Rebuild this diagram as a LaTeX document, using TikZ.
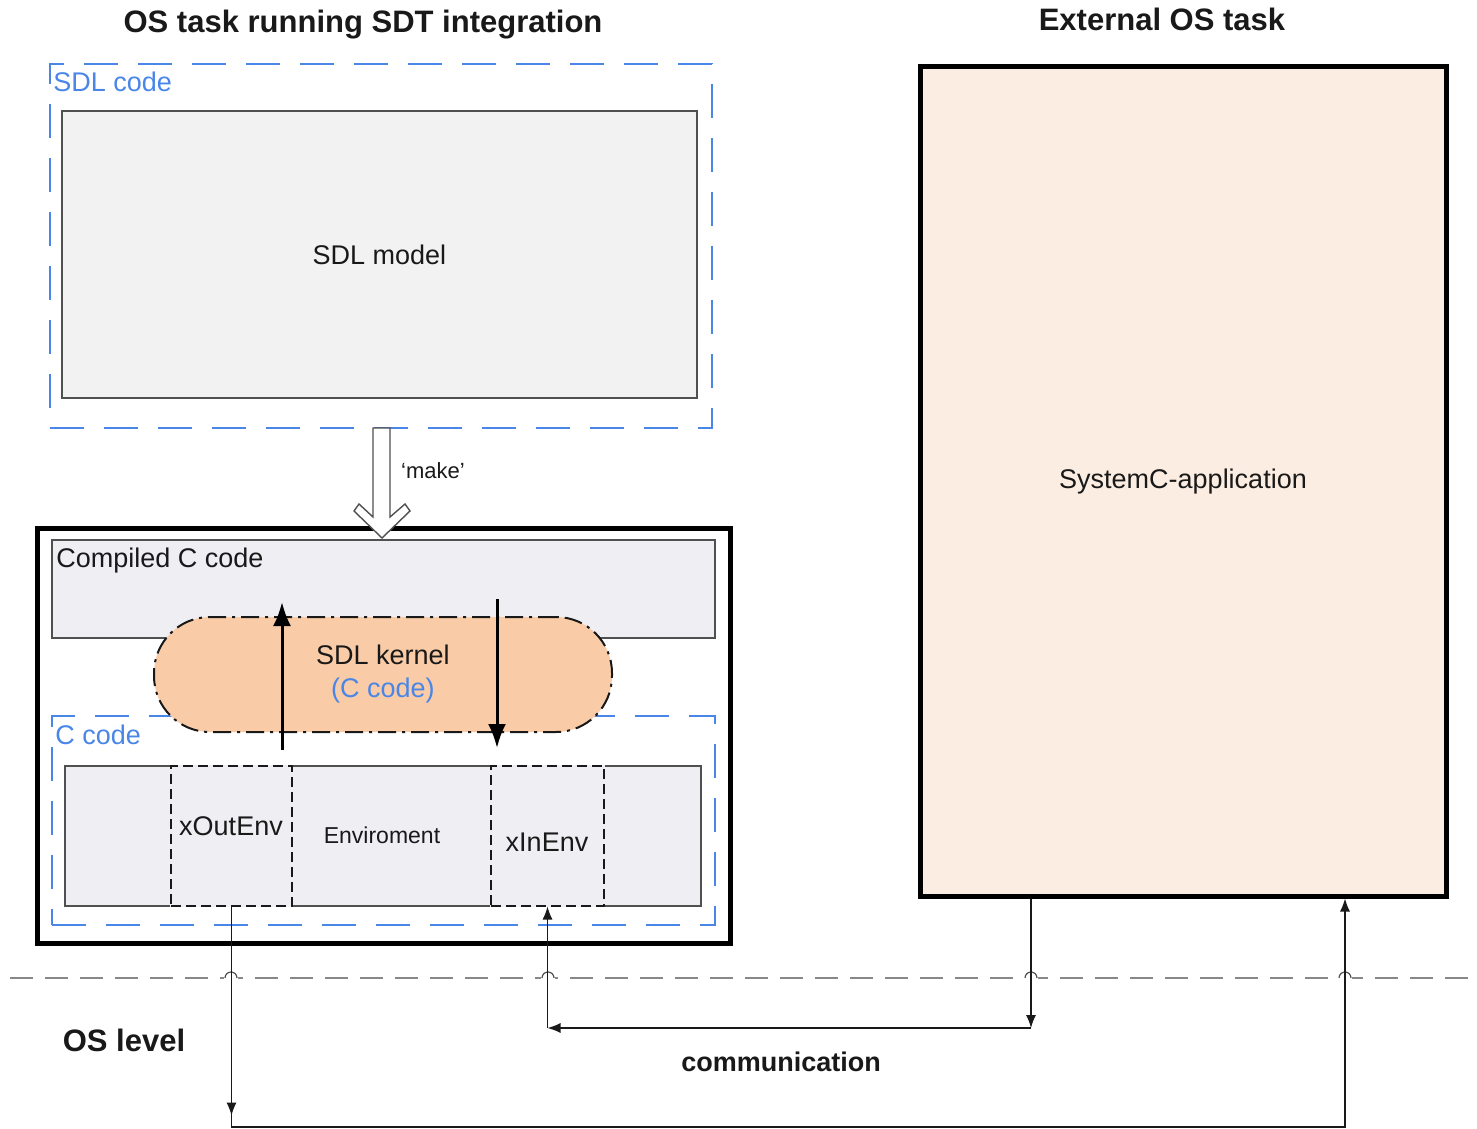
\documentclass[tikz,border=0pt]{standalone}
\usepackage{fontspec}
\setmainfont{Liberation Sans}
\usetikzlibrary{fit,arrows.meta,decorations.markings}

\definecolor{cblue}{RGB}{74,134,232}
\definecolor{kfill}{RGB}{249,203,166}
\definecolor{extfill}{RGB}{252,237,226}
\definecolor{modelfill}{RGB}{242,242,242}
\definecolor{envfill}{RGB}{239,238,243}
\definecolor{osgray}{RGB}{136,136,136}
\definecolor{edgegray}{RGB}{80,80,80}
\definecolor{inkblack}{RGB}{25,25,25}

\begin{document}
\begin{tikzpicture}[x=0.5pt,y=-0.5pt,
  every node/.style={inner sep=0pt},
  txt/.style={text=inkblack, font=\fontsize{13.5pt}{16.5pt}\selectfont},
  smalltxt/.style={text=inkblack, font=\fontsize{11.5pt}{14pt}\selectfont},
  bluetxt/.style={text=cblue, font=\fontsize{13.5pt}{16.5pt}\selectfont},
  headtxt/.style={text=inkblack, font=\fontsize{15.5pt}{18pt}\selectfont\bfseries},
  commtxt/.style={text=inkblack, font=\fontsize{13.5pt}{16.5pt}\selectfont\bfseries},
  bluebox/.style={draw=cblue, line width=1pt, dash pattern=on 17pt off 10pt},
  modelbox/.style={draw=edgegray, fill=modelfill, line width=0.75pt, txt},
  graybox/.style={draw=edgegray, fill=envfill, line width=0.75pt},
  subenv/.style={fill=envfill, draw=inkblack, line width=0.55pt, dash pattern=on 5pt off 2.5pt,
    preaction={draw=envfill, line width=1.2pt, solid}},
  taskbox/.style={draw=black, line width=2.5pt, txt},
  kernelbox/.style={draw=inkblack, fill=kfill, line width=1pt, rounded corners=28pt,
    dash pattern=on 9pt off 3pt on 1.5pt off 3pt, txt, align=center},
  karrow/.style={draw=black, line width=1.5pt, -{Latex[length=12pt,width=9pt]}},
  makearrow/.style={draw=edgegray, fill=white, line width=0.7pt, line join=miter},
  conn/.style={draw=inkblack, line width=0.6pt},
  conntip/.style={-{Latex[length=6.5pt,width=5pt]}},
  osline/.style={draw=osgray, line width=1.2pt, dash pattern=on 11.5pt off 6pt},
  hop/.style={draw=edgegray, line width=0.6pt}
]
\useasboundingbox (0,0) rectangle (1477,1129);

% headings
\node[headtxt, anchor=base] (head1) at (363,33) {OS task running SDT integration};
\node[headtxt, anchor=base] (head2) at (1162,31) {External OS task};

% SDL code area with the model
\node[bluebox, fit={(50,64) (712,428)}] (sdlcode) {};
\node[bluetxt, anchor=base west] (sdlcodelbl) at (53,91) {SDL code};
\node[modelbox, minimum width=317.5pt, minimum height=143.5pt] (model) at (379.5,254.5) {SDL model};

% task running the integration
\node[taskbox, fill=white, fit={(37,528) (730,943)}] (task) {};
\node[graybox, fit={(52,540) (715,638)}] (compiled) {};
\node[txt, anchor=base west] (compiledlbl) at (56,567) {Compiled C code};
\node[bluebox, fit={(52,716) (715,925)}] (ccode) {};
\node[bluetxt, anchor=base west] (ccodelbl) at (55,744) {C code};
\node[graybox, fit={(65,766) (701,906)}] (env) {};
\node[subenv, fit={(171,766) (292,906)}] (xout) {};
\node[subenv, fit={(491,766) (604,906)}] (xin) {};
\node[txt] (xoutlbl) at (231,826) {xOutEnv};
\node[smalltxt] (envlbl) at (382,835) {Enviroment};
\node[txt] (xinlbl) at (547,842) {xInEnv};

% SDL kernel
\node[kernelbox, minimum width=229pt, minimum height=57.5pt] (kernel) at (383,674.5)
  {SDL kernel\\\textcolor{cblue}{(C code)}};
\coordinate (upS) at (282,750);
\coordinate (upE) at (282,602);
\coordinate (dnS) at (497,599);
\coordinate (dnE) at (497,748);
\draw[karrow] (upS) -- (upE);
\draw[karrow] (dnS) -- (dnE);

% 'make' step
\draw[makearrow] (373,428) -- (373,517) -- (359,504) -- (354,511) -- (382,538)
  -- (410,511) -- (405,504) -- (390,517) -- (390,428) -- cycle;
\node[txt, font=\fontsize{11pt}{13pt}\selectfont] (makelbl) at (433,471) {‘make’};

% external task
\node[taskbox, fill=extfill, minimum width=263pt, minimum height=414.5pt] (ext) at (1183,481.5)
  {SystemC-application};

% OS level boundary
\coordinate (osL) at (10,978);
\coordinate (osR) at (1477,978);
\draw[osline] (osL) -- (osR);
\foreach \hx in {231,548,1031,1345} {
  \draw[white, line width=2pt] (\hx-7,978) -- (\hx+7,978);
  \draw[hop] (\hx-6,978) arc[start angle=180, end angle=0, radius=3pt];
}
\node[headtxt, anchor=base] (oslbl) at (124,1051) {OS level};
\node[commtxt, anchor=base] (commlbl) at (781,1071) {communication};

% communication paths
\coordinate (ca) at (1031,1028);
\coordinate (cb) at (1345,1127);
\draw[conn, conntip, postaction={decorate},
  decoration={markings, mark=at position 104.5pt with {\arrow{Latex[length=6.5pt,width=5pt]}}}]
  (xout.south) |- (cb) -- (ext.south -| cb);
\draw[conn, conntip] (ext.south -| ca) -- (ca);
\draw[conn, conntip] (ca) -- (ca -| xin.south);
\draw[conn, conntip] (ca -| xin.south) -- (xin.south);
\end{tikzpicture}
\end{document}
